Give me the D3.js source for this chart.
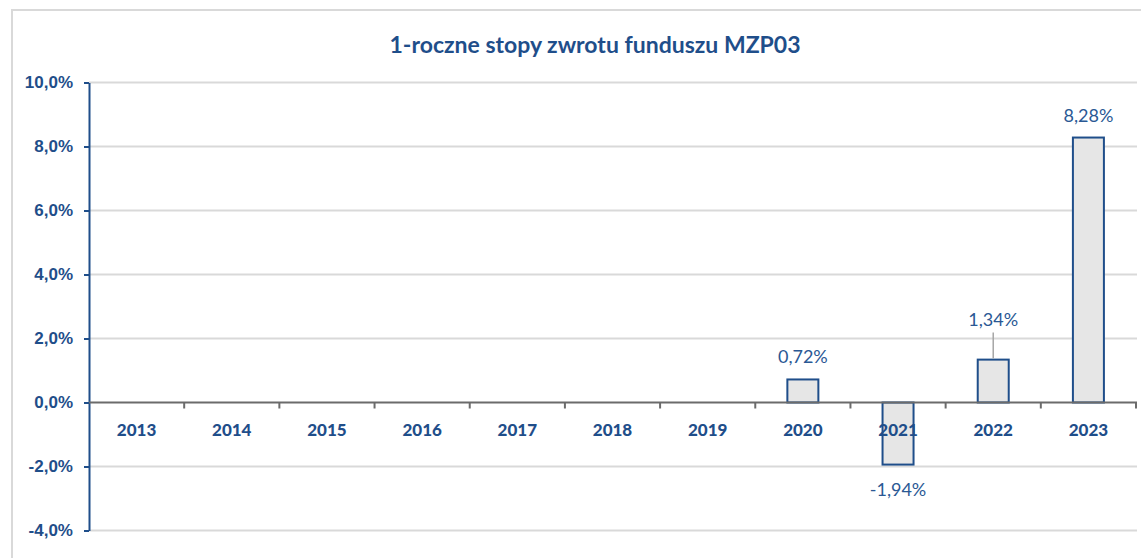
<!DOCTYPE html>
<html>
<head>
<meta charset="utf-8">
<script src="https://cdn.jsdelivr.net/npm/d3@7"></script>
<style>
  body { margin: 0; background: #fff; }
  svg { display: block; font-family: Lato, "Open Sans", sans-serif; }
</style>
</head>
<body>
<div id="chart"></div>
<script>
// data
var years = ["2013", "2014", "2015", "2016", "2017", "2018", "2019", "2020", "2021", "2022", "2023"];
var returns = [null, null, null, null, null, null, null, 0.72, -1.94, 1.34, 8.28];
var yTicks = [-4, -2, 0, 2, 4, 6, 8, 10];

var W = 1141, H = 558;
var blue = "#1f4e8a";

var svg = d3.select("#chart").append("svg")
  .attr("width", W)
  .attr("height", H);

// outer frame (right/bottom run off the picture)
svg.append("rect")
  .attr("x", 12).attr("y", 10)
  .attr("width", W + 20).attr("height", H + 20)
  .attr("fill", "none")
  .attr("stroke", "#d9d9d9")
  .attr("stroke-width", 2);

svg.append("text")
  .attr("x", 595)
  .attr("y", 53)
  .attr("text-anchor", "middle")
  .attr("fill", blue)
  .style("font-weight", "bold")
  .style("font-size", "23px")
  .text("1-roczne stopy zwrotu funduszu MZP03");

var x = d3.scaleBand()
  .domain(years)
  .range([89, 1136])
  .padding(0);

var y = d3.scaleLinear()
  .domain([-4, 10])
  .range([530.5, 82.5]);

// gridlines
svg.append("g")
  .selectAll("line")
  .data(yTicks.filter(function (d) { return d !== 0; }))
  .enter().append("line")
  .attr("x1", 89).attr("x2", 1137)
  .attr("y1", function (d) { return y(d); })
  .attr("y2", function (d) { return y(d); })
  .attr("stroke", "#d9d9d9")
  .attr("stroke-width", 2);

// y axis
var yAxis = svg.append("g")
  .attr("transform", "translate(89,0)")
  .call(d3.axisLeft(y).tickValues(yTicks).tickSize(5).tickSizeOuter(0)
    .tickFormat(function (d) { return d.toFixed(1).replace(".", ",") + "%"; }));
yAxis.select(".domain").attr("stroke", blue).attr("stroke-width", 2);
yAxis.selectAll(".tick line").attr("stroke", blue).attr("stroke-width", 2);
yAxis.selectAll(".tick text")
  .attr("x", -16)
  .attr("fill", blue)
  .style("font-size", "17px")
  .style("font-weight", "900");

// bars
var barW = 31;
var bars = years.map(function (yr, i) { return { year: yr, value: returns[i] }; })
  .filter(function (d) { return d.value !== null; });

svg.append("g")
  .selectAll("rect")
  .data(bars)
  .enter().append("rect")
  .attr("x", function (d) { return x(d.year) + x.bandwidth() / 2 - barW / 2; })
  .attr("y", function (d) { return y(Math.max(0, d.value)); })
  .attr("width", barW)
  .attr("height", function (d) { return Math.abs(y(d.value) - y(0)); })
  .attr("fill", "#e6e6e6")
  .attr("stroke", blue)
  .attr("stroke-width", 2);

// x axis with ticks between categories
var xAxisG = svg.append("g").attr("transform", "translate(0," + y(0) + ")");
xAxisG.append("line")
  .attr("x1", 89).attr("x2", 1137)
  .attr("stroke", "#6b6b6b").attr("stroke-width", 2);
xAxisG.selectAll(".sep")
  .data(years)
  .enter().append("line")
  .attr("x1", function (d) { return x(d) + x.bandwidth(); })
  .attr("x2", function (d) { return x(d) + x.bandwidth(); })
  .attr("y1", 0).attr("y2", 6)
  .attr("stroke", "#6b6b6b").attr("stroke-width", 2);
xAxisG.selectAll(".lbl")
  .data(years)
  .enter().append("text")
  .attr("x", function (d) { return x(d) + x.bandwidth() / 2; })
  .attr("y", 33)
  .attr("text-anchor", "middle")
  .attr("fill", blue)
  .style("font-size", "17px")
  .style("font-weight", "900")
  .text(function (d) { return d; });

// data labels
var fmt = function (v) { return v.toFixed(2).replace(".", ",") + "%"; };
var lblOffset = { "2022": 18 };
svg.append("g")
  .selectAll("text")
  .data(bars)
  .enter().append("text")
  .attr("x", function (d) { return x(d.year) + x.bandwidth() / 2; })
  .attr("y", function (d) {
    var off = lblOffset[d.year] || 0;
    return d.value >= 0 ? y(d.value) - 16 - off : y(d.value) + 31;
  })
  .attr("text-anchor", "middle")
  .attr("fill", "#2a5894")
  .style("font-size", "18px")
  .text(function (d) { return fmt(d.value); });

// leader line for 2022
svg.append("line")
  .attr("x1", x("2022") + x.bandwidth() / 2)
  .attr("x2", x("2022") + x.bandwidth() / 2)
  .attr("y1", y(1.34) - 1)
  .attr("y2", y(1.34) - 27)
  .attr("stroke", "#a6a6a6")
  .attr("stroke-width", 1.5);
</script>
</body>
</html>
